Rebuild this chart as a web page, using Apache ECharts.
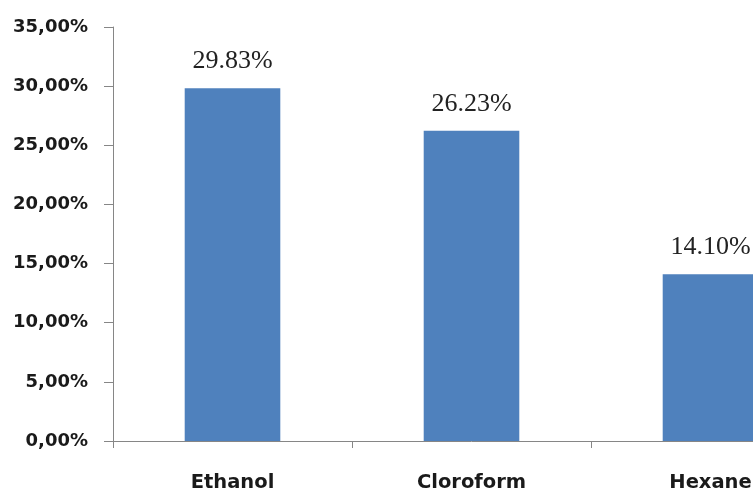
<!DOCTYPE html>
<html>
<head>
<meta charset="utf-8">
<style>
  html, body { margin: 0; padding: 0; background: #fff; }
  #frame { width: 753px; height: 493px; overflow: hidden; position: relative; }
  /* the canvas is wider than the frame so the last category is cut at the edge */
  #chart { width: 850px; height: 493px; position: absolute; left: 0; top: 0; }
</style>
<script src="https://cdn.jsdelivr.net/npm/echarts@6/dist/echarts.min.js"></script>
</head>
<body>
<div id="frame"><div id="chart"></div></div>
<script>
// Extraction yield per solvent (%)
const solvents = ['Ethanol', 'Cloroform', 'Hexane'];
const yields = [29.83, 26.23, 14.10];
const yTicks = { min: 0, max: 35, step: 5 };

const chart = echarts.init(document.getElementById('chart'));

chart.setOption({
  animation: false,
  backgroundColor: '#ffffff',
  grid: { left: 113, top: 27, bottom: 51.5, width: 717, containLabel: false },
  xAxis: {
    type: 'category',
    data: solvents,
    axisLine: { lineStyle: { color: '#868686', width: 1 } },
    axisTick: { show: true, length: 7, alignWithLabel: false, lineStyle: { color: '#868686' } },
    axisLabel: {
      margin: 32,
      fontFamily: 'DejaVu Sans',
      fontWeight: 'bold',
      fontSize: 19.5,
      color: '#1a1a1a'
    },
    splitLine: { show: false }
  },
  yAxis: {
    type: 'value',
    min: yTicks.min,
    max: yTicks.max,
    interval: yTicks.step,
    axisLine: { show: true, lineStyle: { color: '#868686', width: 1 } },
    axisTick: { show: true, length: 9, lineStyle: { color: '#868686' } },
    splitLine: { show: false },
    axisLabel: {
      margin: 25,
      fontFamily: 'DejaVu Sans',
      fontWeight: 'bold',
      fontSize: 18,
      color: '#1a1a1a',
      formatter: v => v.toFixed(2).replace('.', ',') + '%'
    }
  },
  series: [{
    type: 'bar',
    data: yields,
    barWidth: '40%',
    itemStyle: { color: '#4f81bd' },
    label: {
      show: true,
      position: 'top',
      distance: 14,
      fontFamily: 'Liberation Serif',
      fontSize: 26,
      color: '#222222',
      formatter: p => p.value.toFixed(2) + '%'
    }
  }]
});
</script>
</body>
</html>
